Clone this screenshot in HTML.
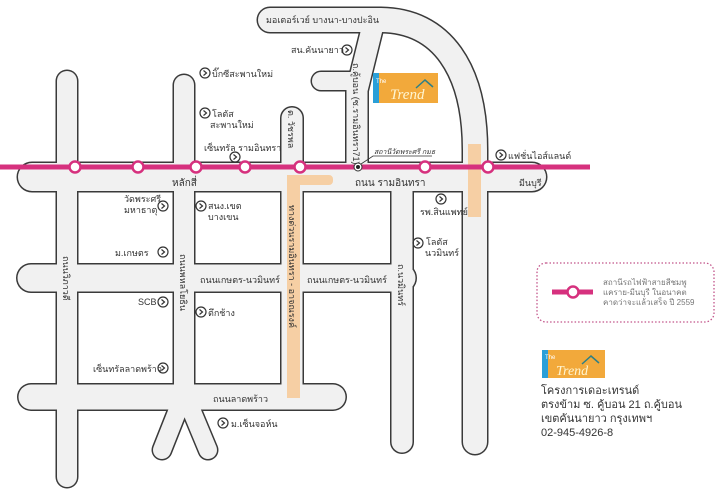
<!DOCTYPE html>
<html><head><meta charset="utf-8"><style>
html,body{margin:0;padding:0;background:#fff;}
svg{display:block;}
text{font-family:"Liberation Sans","Noto Sans CJK SC",sans-serif;fill:#333;}
</style></head><body>
<svg width="720" height="493" viewBox="0 0 720 493" xmlns="http://www.w3.org/2000/svg">
<defs>
<g id="cc"><circle r="5" fill="none" stroke="#333" stroke-width="1.2"/><path d="M-1.5 -2.5 L1.5 0 L-1.5 2.5" fill="none" stroke="#333" stroke-width="1.2"/></g>
</defs>
<g fill="none" stroke-linecap="round" stroke-linejoin="round" stroke="#3a3a3a">
  <path d="M32 177 H532" stroke-width="31"/>
  <path d="M67 81 V477" stroke-width="23"/>
  <path d="M184 85 V400" stroke-width="23"/>
  <path d="M292 118 V397" stroke-width="24"/>
  <path d="M31 278 H402" stroke-width="30"/>
  <path d="M31 397 H333" stroke-width="28"/>
  <path d="M402 177 V442" stroke-width="24"/>
  <path d="M181 402 L162 450" stroke-width="21"/>
  <path d="M188 402 L208 450" stroke-width="21"/>
  <path d="M357 177 V90 L373 25" stroke-width="24"/>
  <path d="M321 81 H357" stroke-width="21"/>
  <path d="M270 20 H380 C442 20 475 70 475 150 V442" stroke-width="27"/>
</g>
<g fill="none" stroke-linecap="round" stroke-linejoin="round" stroke="#f1f1f1">
  <path d="M32 177 H532" stroke-width="28"/>
  <path d="M67 81 V477" stroke-width="20"/>
  <path d="M184 85 V400" stroke-width="20"/>
  <path d="M292 118 V397" stroke-width="21"/>
  <path d="M31 278 H402" stroke-width="27"/>
  <path d="M31 397 H333" stroke-width="25"/>
  <path d="M402 177 V442" stroke-width="21"/>
  <path d="M181 402 L162 450" stroke-width="18"/>
  <path d="M188 402 L208 450" stroke-width="18"/>
  <path d="M357 177 V90 L373 25" stroke-width="21"/>
  <path d="M321 81 H357" stroke-width="18"/>
  <path d="M270 20 H380 C442 20 475 70 475 150 V442" stroke-width="24"/>
</g>
<path d="M287 398 V175 H329 a4 4 0 0 1 4 4 V181 a4 4 0 0 1 -4 4 H300 V398 Z" fill="#f6cfa4"/>
<rect x="468" y="144" width="13" height="73" fill="#f6cfa4"/>
<rect x="0" y="164.5" width="590" height="5" fill="#d6317e"/>
<g fill="#fff" stroke="#d6317e" stroke-width="2.5">
<circle cx="75" cy="167" r="5.5"/><circle cx="138" cy="167" r="5.5"/><circle cx="196" cy="167" r="5.5"/>
<circle cx="245" cy="167" r="5.5"/><circle cx="300" cy="167" r="5.5"/><circle cx="425" cy="167" r="5.5"/>
<circle cx="488" cy="167" r="5.5"/>
</g>
<circle cx="358" cy="167" r="4" fill="#fff" stroke="#333" stroke-width="1"/><circle cx="358" cy="167" r="2" fill="#222"/>
<path d="M361 164 L373 156 H432" fill="none" stroke="#333" stroke-width="0.8"/>
<text x="374" y="154" font-size="7" font-style="italic">สถานีวัดพระศรี กมธ</text>
<rect x="373" y="73" width="65" height="30" fill="#f2a93b"/><rect x="373" y="73" width="6" height="30" fill="#2a9fd8"/>
<text x="376" y="83" font-size="6" style="fill:#fff">The</text>
<text x="390" y="99" font-size="15" font-style="italic" style="fill:#fff5d0;font-family:'Liberation Serif',serif">Trend</text>
<path d="M416 88 L425 80 L433 87" fill="none" stroke="#2d7f86" stroke-width="1.5"/>
<g font-size="9">
<text x="266" y="23">มอเตอร์เวย์ บางนา-บางปะอิน</text>
<text x="291" y="53">สน.คันนายาว</text><use href="#cc" x="347" y="50"/>
<use href="#cc" x="205" y="73"/><text x="212" y="77">บิ๊กซีสะพานใหม่</text>
<use href="#cc" x="205" y="113"/><text x="212" y="117">โลตัส</text><text x="210" y="128">สะพานใหม่</text>
<text x="204" y="151">เซ็นทรัล รามอินทรา</text><use href="#cc" x="235" y="157"/>
<use href="#cc" x="501" y="155"/><text x="508" y="159">แฟชั่นไอส์แลนด์</text>
<text x="172" y="186" font-size="10">หลักสี่</text>
<text x="355" y="186" font-size="10">ถนน รามอินทรา</text>
<text x="519" y="186">มีนบุรี</text>
<text x="124" y="202">วัดพระศรี</text><text x="124" y="213">มหาธาตุ</text><use href="#cc" x="163" y="206"/>
<use href="#cc" x="201" y="206"/><text x="208" y="209">สนง.เขต</text><text x="208" y="220">บางเขน</text>
<use href="#cc" x="441" y="199"/><text x="420" y="215">รพ.สินแพทย์</text>
<use href="#cc" x="418" y="243"/><text x="426" y="245">โลตัส</text><text x="425" y="256">นวมินทร์</text>
<text x="115" y="256">ม.เกษตร</text><use href="#cc" x="163" y="252"/>
<text x="200" y="283">ถนนเกษตร-นวมินทร์</text>
<text x="307" y="283">ถนนเกษตร-นวมินทร์</text>
<text x="138" y="305">SCB</text><use href="#cc" x="163" y="302"/>
<use href="#cc" x="201" y="312"/><text x="208" y="316">ตึกช้าง</text>
<text x="93" y="372">เซ็นทรัลลาดพร้าว</text><use href="#cc" x="163" y="368"/>
<text x="213" y="402">ถนนลาดพร้าว</text>
<use href="#cc" x="223" y="423"/><text x="231" y="427">ม.เซ็นจอห์น</text>
</g>
<g font-size="9">
<text transform="translate(288,110) rotate(90)">ต. วัชรพล</text>
<text transform="translate(353,63) rotate(90)">ถ.คู้บอน (ซ.รามอินทรา71)</text>
<text transform="translate(289,205) rotate(90)">ทางด่วนรามอินทรา - อาจณรงค์</text>
<text transform="translate(63,256) rotate(90)">ถนนวิภาวดี</text>
<text transform="translate(180,254) rotate(90)">ถนนพหลโยธิน</text>
<text transform="translate(398,264) rotate(90)">ถ.นวมินทร์</text>
</g>
<rect x="537" y="263" width="177" height="59" rx="9" fill="none" stroke="#c2548a" stroke-width="1.3" stroke-dasharray="1.5 2"/>
<rect x="552" y="289.5" width="41" height="5" fill="#d6317e"/>
<circle cx="573" cy="292" r="5.5" fill="#fff" stroke="#d6317e" stroke-width="2.5"/>
<g font-size="8"><text x="603" y="285" style="fill:#777">สถานีรถไฟฟ้าสายสีชมพู</text><text x="603" y="295" style="fill:#777">แคราย-มีนบุรี ในอนาคต</text><text x="603" y="305" style="fill:#777">คาดว่าจะแล้วเสร็จ ปี 2559</text></g>
<rect x="542" y="350" width="63" height="28" fill="#f2a93b"/><rect x="542" y="350" width="6" height="28" fill="#2a9fd8"/>
<text x="545" y="359" font-size="6" style="fill:#fff">The</text>
<text x="556" y="375" font-size="14" font-style="italic" style="fill:#fff5d0;font-family:'Liberation Serif',serif">Trend</text>
<path d="M582 364 L591 356 L599 363" fill="none" stroke="#2d7f86" stroke-width="1.5"/>
<g font-size="11"><text x="541" y="394">โครงการเดอะเทรนด์</text><text x="541" y="408">ตรงข้าม ซ. คู้บอน 21 ถ.คู้บอน</text><text x="541" y="422">เขตคันนายาว กรุงเทพฯ</text><text x="541" y="436">02-945-4926-8</text></g>
</svg>
</body></html>
